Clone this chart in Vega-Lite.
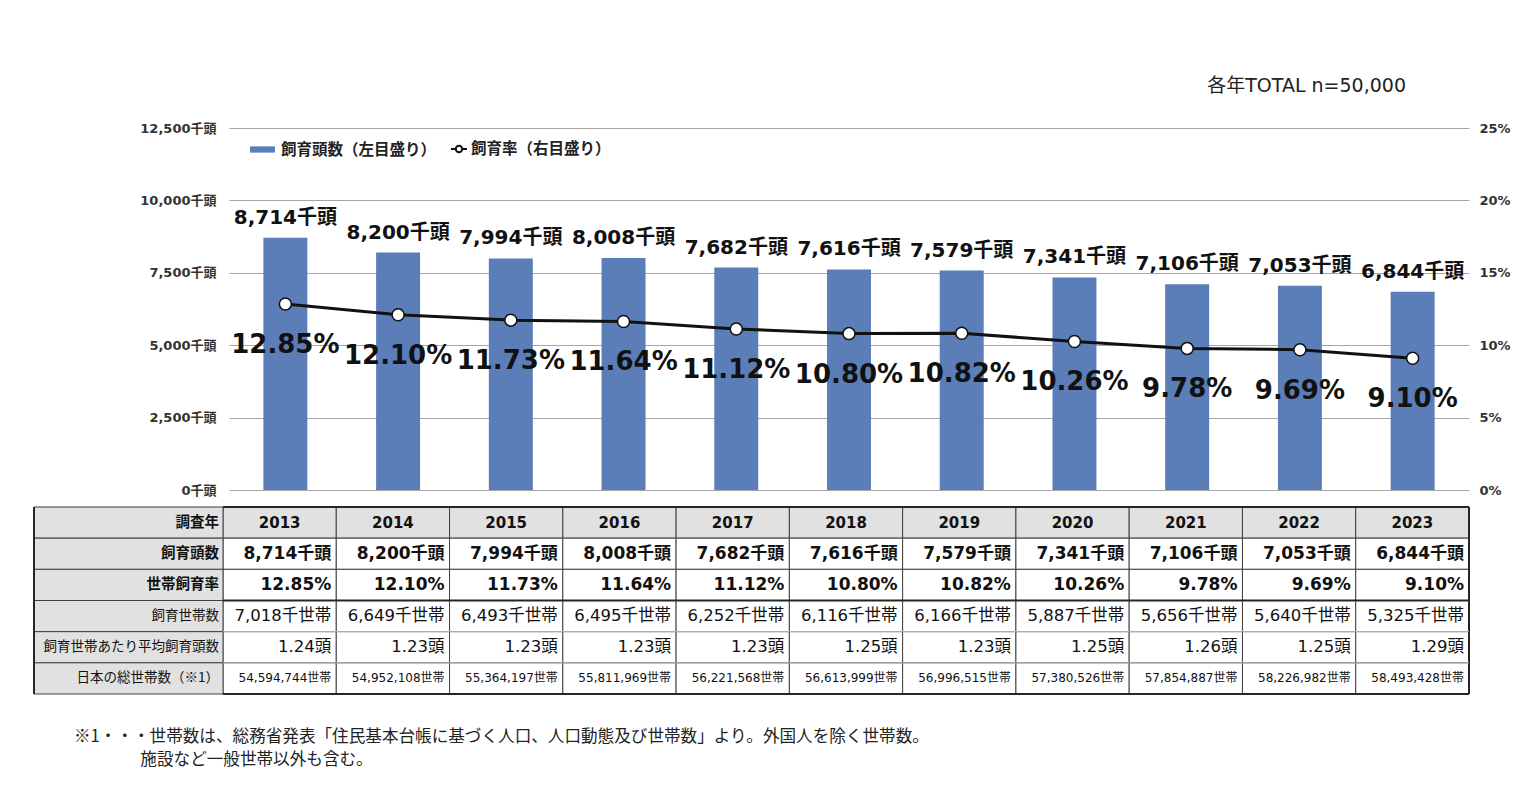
{
  "$schema": "https://vega.github.io/schema/vega-lite/v6.json",
  "background": "white",
  "padding": {"left": 33, "top": 77, "right": 10, "bottom": 10},
  "bounds": "flush",
  "spacing": 17,
  "config": {
    "view": {"stroke": null},
    "font": "DejaVu Sans, Noto Sans CJK JP"
  },
  "datasets": {
    "main": [
      {"year": "2013", "heads": 8714, "rate": 12.85, "調査年": "2013", "飼育頭数": "8,714千頭", "世帯飼育率": "12.85%", "飼育世帯数": "7,018千世帯", "飼育世帯あたり平均飼育頭数": "1.24頭", "日本の総世帯数（※1）": "54,594,744世帯"},
      {"year": "2014", "heads": 8200, "rate": 12.10, "調査年": "2014", "飼育頭数": "8,200千頭", "世帯飼育率": "12.10%", "飼育世帯数": "6,649千世帯", "飼育世帯あたり平均飼育頭数": "1.23頭", "日本の総世帯数（※1）": "54,952,108世帯"},
      {"year": "2015", "heads": 7994, "rate": 11.73, "調査年": "2015", "飼育頭数": "7,994千頭", "世帯飼育率": "11.73%", "飼育世帯数": "6,493千世帯", "飼育世帯あたり平均飼育頭数": "1.23頭", "日本の総世帯数（※1）": "55,364,197世帯"},
      {"year": "2016", "heads": 8008, "rate": 11.64, "調査年": "2016", "飼育頭数": "8,008千頭", "世帯飼育率": "11.64%", "飼育世帯数": "6,495千世帯", "飼育世帯あたり平均飼育頭数": "1.23頭", "日本の総世帯数（※1）": "55,811,969世帯"},
      {"year": "2017", "heads": 7682, "rate": 11.12, "調査年": "2017", "飼育頭数": "7,682千頭", "世帯飼育率": "11.12%", "飼育世帯数": "6,252千世帯", "飼育世帯あたり平均飼育頭数": "1.23頭", "日本の総世帯数（※1）": "56,221,568世帯"},
      {"year": "2018", "heads": 7616, "rate": 10.80, "調査年": "2018", "飼育頭数": "7,616千頭", "世帯飼育率": "10.80%", "飼育世帯数": "6,116千世帯", "飼育世帯あたり平均飼育頭数": "1.25頭", "日本の総世帯数（※1）": "56,613,999世帯"},
      {"year": "2019", "heads": 7579, "rate": 10.82, "調査年": "2019", "飼育頭数": "7,579千頭", "世帯飼育率": "10.82%", "飼育世帯数": "6,166千世帯", "飼育世帯あたり平均飼育頭数": "1.23頭", "日本の総世帯数（※1）": "56,996,515世帯"},
      {"year": "2020", "heads": 7341, "rate": 10.26, "調査年": "2020", "飼育頭数": "7,341千頭", "世帯飼育率": "10.26%", "飼育世帯数": "5,887千世帯", "飼育世帯あたり平均飼育頭数": "1.25頭", "日本の総世帯数（※1）": "57,380,526世帯"},
      {"year": "2021", "heads": 7106, "rate": 9.78, "調査年": "2021", "飼育頭数": "7,106千頭", "世帯飼育率": "9.78%", "飼育世帯数": "5,656千世帯", "飼育世帯あたり平均飼育頭数": "1.26頭", "日本の総世帯数（※1）": "57,854,887世帯"},
      {"year": "2022", "heads": 7053, "rate": 9.69, "調査年": "2022", "飼育頭数": "7,053千頭", "世帯飼育率": "9.69%", "飼育世帯数": "5,640千世帯", "飼育世帯あたり平均飼育頭数": "1.25頭", "日本の総世帯数（※1）": "58,226,982世帯"},
      {"year": "2023", "heads": 6844, "rate": 9.10, "調査年": "2023", "飼育頭数": "6,844千頭", "世帯飼育率": "9.10%", "飼育世帯数": "5,325千世帯", "飼育世帯あたり平均飼育頭数": "1.29頭", "日本の総世帯数（※1）": "58,493,428世帯"}
    ],
    "rows": [
      {"col": "項目", "row": "調査年"},
      {"col": "項目", "row": "飼育頭数"},
      {"col": "項目", "row": "世帯飼育率"},
      {"col": "項目", "row": "飼育世帯数"},
      {"col": "項目", "row": "飼育世帯あたり平均飼育頭数"},
      {"col": "項目", "row": "日本の総世帯数（※1）"}
    ]
  },
  "vconcat": [
    {
      "width": 1246,
      "height": 362,
      "title": {"text": "各年TOTAL n=50,000", "anchor": "end", "frame": "group", "dx": -63, "offset": 26, "fontSize": 19, "fontWeight": "normal", "color": "#222222"},
      "data": {"name": "main"},
      "encoding": {
        "x": {"field": "year", "type": "nominal", "sort": null, "scale": {"type": "band", "range": [6, 1246], "paddingInner": 0, "paddingOuter": 0}, "axis": null}
      },
      "layer": [
        {
          "layer": [
            {
              "mark": {"type": "bar", "width": {"band": 0.39}},
              "encoding": {
                "y": {"field": "heads", "type": "quantitative", "scale": {"domain": [0, 12500], "nice": false},
                  "axis": {"orient": "left", "values": [0, 2500, 5000, 7500, 10000, 12500], "labelExpr": "format(datum.value, ',') + '千頭'", "grid": true, "gridColor": "#A6A6A6", "gridWidth": 1, "domain": false, "ticks": false, "labelPadding": 7, "labelFontSize": 13, "labelFontWeight": "bold", "labelColor": "#333333", "title": null}},
                "color": {"datum": "飼育頭数（左目盛り）", "type": "nominal", "scale": {"range": ["#5B7EB9"]},
                  "legend": {"orient": "none", "legendX": 26, "legendY": 8, "title": null, "padding": 0, "symbolType": "M-1,-0.25H1V0.25H-1Z", "symbolSize": 625, "labelFontSize": 15.5, "labelFontWeight": "bold", "labelColor": "#222222", "labelOffset": 5}}
              }
            },
            {
              "mark": {"type": "text", "fontSize": 20, "fontWeight": "bold", "baseline": "alphabetic", "dy": -14, "color": "#111111"},
              "encoding": {
                "y": {"field": "heads", "type": "quantitative"},
                "text": {"field": "飼育頭数"}
              }
            }
          ]
        },
        {
          "layer": [
            {
              "mark": {"type": "line", "strokeWidth": 3},
              "encoding": {
                "y": {"field": "rate", "type": "quantitative", "scale": {"domain": [0, 25], "nice": false},
                  "axis": {"orient": "right", "values": [0, 5, 10, 15, 20, 25], "labelExpr": "datum.value + '%'", "grid": false, "domain": false, "ticks": false, "labelPadding": 10, "labelFontSize": 13, "labelFontWeight": "bold", "labelColor": "#333333", "title": null}},
                "stroke": {"datum": "飼育率（右目盛り）", "type": "nominal", "scale": {"range": ["#111111"]},
                  "legend": {"orient": "none", "legendX": 227, "legendY": 12, "title": null, "padding": 0, "symbolType": "M-1,0H-0.4M0.4,0H1M0.4,0A0.4,0.4,0,1,1,-0.4,0A0.4,0.4,0,1,1,0.4,0", "symbolSize": 256, "symbolStrokeWidth": 2, "labelFontSize": 15.5, "labelFontWeight": "bold", "labelColor": "#222222", "labelOffset": 3,
                    "encode": {"symbols": {"update": {"fill": {"value": "white"}, "strokeWidth": {"value": 2}}}}}}
              }
            },
            {
              "mark": {"type": "point", "filled": true, "fill": "white", "stroke": "#111111", "strokeWidth": 1.5, "size": 144, "opacity": 1},
              "encoding": {
                "y": {"field": "rate", "type": "quantitative"}
              }
            },
            {
              "mark": {"type": "text", "fontSize": 26, "fontWeight": "bold", "baseline": "alphabetic", "dy": 49, "color": "#111111"},
              "encoding": {
                "y": {"field": "rate", "type": "quantitative"},
                "text": {"field": "世帯飼育率"}
              }
            }
          ]
        }
      ],
      "resolve": {"scale": {"y": "independent"}}
    },
    {
      "width": 1246,
      "height": 187,
      "title": {"text": ["※1・・・世帯数は、総務省発表「住民基本台帳に基づく人口、人口動態及び世帯数」より。外国人を除く世帯数。", "\u200B　　　　施設など一般世帯以外も含む。"], "orient": "bottom", "anchor": "start", "frame": "group", "dx": -149, "offset": 34, "fontSize": 16.6, "fontWeight": "normal", "lineHeight": 23, "color": "#222222", "font": "Noto Sans CJK JP"},
      "layer": [
        {
          "data": {"name": "main"},
          "transform": [{"fold": ["調査年", "飼育頭数", "世帯飼育率", "飼育世帯数", "飼育世帯あたり平均飼育頭数", "日本の総世帯数（※1）"], "as": ["row", "text"]}],
          "layer": [
            {
              "mark": {"type": "rect", "stroke": "#404040", "strokeWidth": 1},
              "encoding": {
                "x": {"field": "year", "type": "nominal", "sort": null, "scale": {"type": "band", "paddingInner": 0, "paddingOuter": 0}, "axis": null},
                "y": {"field": "row", "type": "nominal", "scale": {"domain": ["調査年", "飼育頭数", "世帯飼育率", "飼育世帯数", "飼育世帯あたり平均飼育頭数", "日本の総世帯数（※1）"], "paddingInner": 0, "paddingOuter": 0}, "axis": null},
                "fill": {"condition": {"test": "datum.row === '調査年'", "value": "#E1E1E1"}, "value": "white"}
              }
            },
            {
              "transform": [{"filter": "datum.row === '調査年'"}],
              "mark": {"type": "text", "fontSize": 15, "fontWeight": "bold", "baseline": "middle", "align": "center", "color": "#111111"},
              "encoding": {
                "x": {"field": "year", "type": "nominal", "sort": null},
                "y": {"field": "row", "type": "nominal"},
                "text": {"field": "text"}
              }
            },
            {
              "transform": [{"filter": "datum.row === '飼育頭数' || datum.row === '世帯飼育率'"}],
              "mark": {"type": "text", "fontSize": 17, "fontWeight": "bold", "baseline": "middle", "align": "right", "dx": -5, "color": "#111111"},
              "encoding": {
                "x": {"field": "year", "type": "nominal", "sort": null, "bandPosition": 1},
                "y": {"field": "row", "type": "nominal"},
                "text": {"field": "text"}
              }
            },
            {
              "transform": [{"filter": "datum.row === '飼育世帯数' || datum.row === '飼育世帯あたり平均飼育頭数'"}],
              "mark": {"type": "text", "fontSize": 16.5, "fontWeight": "normal", "baseline": "middle", "align": "right", "dx": -5, "color": "#111111"},
              "encoding": {
                "x": {"field": "year", "type": "nominal", "sort": null, "bandPosition": 1},
                "y": {"field": "row", "type": "nominal"},
                "text": {"field": "text"}
              }
            },
            {
              "transform": [{"filter": "datum.row === '日本の総世帯数（※1）'"}],
              "mark": {"type": "text", "fontSize": 12, "fontWeight": "normal", "baseline": "middle", "align": "right", "dx": -5, "color": "#111111"},
              "encoding": {
                "x": {"field": "year", "type": "nominal", "sort": null, "bandPosition": 1},
                "y": {"field": "row", "type": "nominal"},
                "text": {"field": "text"}
              }
            },
            {
              "transform": [{"filter": "datum.row === '調査年' && datum.year === '2023'"}],
              "mark": {"type": "rule", "stroke": "#262626", "strokeWidth": 2},
              "encoding": {
                "x": {"field": "year", "type": "nominal", "sort": null, "bandPosition": 1}
              }
            }
          ]
        },
        {
          "data": {"name": "rows"},
          "layer": [
            {
              "mark": {"type": "rect", "stroke": "#404040", "strokeWidth": 1, "fill": "#E1E1E1"},
              "encoding": {
                "x": {"field": "col", "type": "nominal", "scale": {"type": "band", "range": [-189, 0], "paddingInner": 0, "paddingOuter": 0}, "axis": null},
                "y": {"field": "row", "type": "nominal"}
              }
            },
            {
              "transform": [{"filter": "datum.row === '調査年' || datum.row === '飼育頭数' || datum.row === '世帯飼育率'"}],
              "mark": {"type": "text", "fontSize": 14.5, "fontWeight": "bold", "baseline": "middle", "align": "right", "dx": -4, "color": "#111111", "font": "Noto Sans CJK JP"},
              "encoding": {
                "x": {"field": "col", "type": "nominal", "bandPosition": 1},
                "y": {"field": "row", "type": "nominal"},
                "text": {"field": "row"}
              }
            },
            {
              "transform": [{"filter": "datum.row === '飼育世帯数' || datum.row === '飼育世帯あたり平均飼育頭数' || datum.row === '日本の総世帯数（※1）'"}],
              "mark": {"type": "text", "fontSize": 13.5, "fontWeight": "normal", "baseline": "middle", "align": "right", "dx": -4, "color": "#111111", "font": "Noto Sans CJK JP"},
              "encoding": {
                "x": {"field": "col", "type": "nominal", "bandPosition": 1},
                "y": {"field": "row", "type": "nominal"},
                "text": {"field": "row"}
              }
            },
            {
              "transform": [{"filter": "datum.row === '調査年'"}],
              "mark": {"type": "rule", "stroke": "#262626", "strokeWidth": 2},
              "encoding": {
                "x": {"field": "col", "type": "nominal", "bandPosition": 0}
              }
            }
          ]
        },
        {
          "data": {"name": "rows"},
          "layer": [
            {
              "transform": [{"filter": "datum.row === '飼育世帯あたり平均飼育頭数' || datum.row === '日本の総世帯数（※1）'"}],
              "mark": {"type": "rule", "stroke": "#BFBFBF", "strokeWidth": 1},
              "encoding": {
                "y": {"field": "row", "type": "nominal", "bandPosition": 0}
              }
            },
            {
              "transform": [{"filter": "datum.row === '調査年' || datum.row === '飼育世帯数'"}],
              "mark": {"type": "rule", "stroke": "#262626", "strokeWidth": 2},
              "encoding": {
                "y": {"field": "row", "type": "nominal", "bandPosition": 0}
              }
            },
            {
              "transform": [{"filter": "datum.row === '日本の総世帯数（※1）'"}],
              "mark": {"type": "rule", "stroke": "#262626", "strokeWidth": 2},
              "encoding": {
                "y": {"field": "row", "type": "nominal", "bandPosition": 1}
              }
            }
          ]
        }
      ],
      "resolve": {"scale": {"x": "independent"}}
    }
  ]
}
